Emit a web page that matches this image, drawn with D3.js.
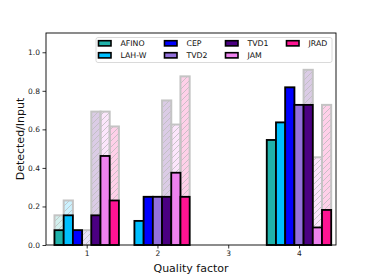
<!DOCTYPE html>
<html><head><meta charset="utf-8">
<script src="https://cdn.jsdelivr.net/npm/d3@7"></script>
<style>body{margin:0;background:#fff}svg{display:block;font-family:"DejaVu Sans",sans-serif}</style>
</head><body><svg id="c" width="374" height="276"></svg>
<script>
const categories = [1, 2, 3, 4];
const methods = ["AFINO", "LAH-W", "CEP", "TVD2", "TVD1", "JAM", "JRAD"];
const colors = ["#20B2AA", "#00BFFF", "#0000FF", "#9370DB", "#4B0082", "#EE82EE", "#FF1493"];
// detected fraction (foreground bars)
const afinoDet = [0.077, 0, null, 0.545];
const lahwDet  = [0.154, 0.125, null, 0.636];
const cepDet   = [0.077, 0.25, null, 0.818];
const tvd2Det  = [0, 0.25, null, 0.727];
const tvd1Det  = [0.154, 0.25, null, 0.727];
const jamDet   = [0.462, 0.375, null, 0.091];
const jradDet  = [0.231, 0.25, null, 0.182];
// all detections (background hatched bars)
const afinoAll = [0.154, 0, null, 0.545];
const lahwAll  = [0.231, 0.125, null, 0.636];
const cepAll   = [0.077, 0.25, null, 0.818];
const tvd2All  = [0.077, 0.25, null, 0.727];
const tvd1All  = [0.692, 0.75, null, 0.909];
const jamAll   = [0.692, 0.625, null, 0.455];
const jradAll  = [0.615, 0.875, null, 0.727];
const yTicks = [0.0, 0.2, 0.4, 0.6, 0.8, 1.0];

const det = [afinoDet, lahwDet, cepDet, tvd2Det, tvd1Det, jamDet, jradDet];
const all = [afinoAll, lahwAll, cepAll, tvd2All, tvd1All, jamAll, jradAll];

const svg = d3.select("#c");
const L = 46, R = 336, T = 33, B = 245;
const x = d3.scaleLinear().domain([0.425, 4.523]).range([L, R]);
const y = d3.scaleLinear().domain([0, 1.1]).range([B, T]);
const bw = 0.13;

const defs = svg.append("defs");
const pat = defs.append("pattern").attr("id", "hatch").attr("patternUnits", "userSpaceOnUse")
  .attr("width", 6).attr("height", 6);
pat.append("path").attr("d", "M-1,7 L7,-1 M-4,4 L4,-4 M2,10 L10,2")
  .attr("stroke", "#bdbdbd").attr("stroke-width", 0.8);

const bars = [];
methods.forEach((m, i) => {
  categories.forEach((c, j) => {
    bars.push({i, c, det: det[i][j], all: all[i][j]});
  });
});

const xl = d => x(d.c + (d.i - 3) * bw - bw / 2);
const wl = () => x(bw) - x(0);

// background bars
const bg = svg.append("g");
bars.filter(d => d.all != null && d.all > 0).forEach(d => {
  const h = y(0) - y(d.all);
  bg.append("rect").attr("x", xl(d)).attr("y", y(d.all)).attr("width", wl()).attr("height", h)
    .attr("fill", colors[d.i]).attr("fill-opacity", 0.2);
  bg.append("rect").attr("x", xl(d)).attr("y", y(d.all)).attr("width", wl()).attr("height", h)
    .attr("fill", "url(#hatch)").attr("stroke", "#c4c4c4").attr("stroke-width", 2);
});
// foreground bars
svg.append("g").selectAll("rect").data(bars.filter(d => d.det != null)).join("rect")
  .attr("x", xl).attr("y", d => y(d.det)).attr("width", wl())
  .attr("height", d => y(0) - y(d.det))
  .attr("fill", d => colors[d.i]).attr("stroke", "#000").attr("stroke-width", 1.8);

// frame
svg.append("rect").attr("x", L).attr("y", T).attr("width", R - L).attr("height", B - T)
  .attr("fill", "none").attr("stroke", "#000").attr("stroke-width", 0.9);

// axes
const xa = svg.append("g").attr("transform", `translate(0,${B})`)
  .call(d3.axisBottom(x).tickValues(categories).tickFormat(d3.format("d")).tickSize(3.5).tickPadding(2));
const ya = svg.append("g").attr("transform", `translate(${L},0)`)
  .call(d3.axisLeft(y).tickValues(yTicks).tickFormat(d3.format(".1f")).tickSize(3.5).tickPadding(2.5));
[xa, ya].forEach(a => {
  a.select(".domain").remove();
  a.selectAll("text").attr("font-size", 7.5).attr("fill", "#222").attr("font-family", "DejaVu Sans");
  a.selectAll("line").attr("stroke", "#000").attr("stroke-width", 0.8);
});

svg.append("text").attr("x", (L + R) / 2).attr("y", 272).attr("text-anchor", "middle")
  .attr("font-size", 11).attr("fill", "#111").text("Quality factor");
svg.append("text").attr("transform", `translate(24,${(T + B) / 2}) rotate(-90)`).attr("text-anchor", "middle")
  .attr("font-size", 11).attr("fill", "#111").text("Detected/Input");

// legend
const lg = svg.append("g");
lg.append("rect").attr("x", 96).attr("y", 37.5).attr("width", 236).attr("height", 25).attr("rx", 2)
  .attr("fill", "#fff").attr("fill-opacity", 0.85).attr("stroke", "#d0d0d0").attr("stroke-width", 0.8);
const colX = [98.5, 164.5, 225.5, 286.5];
methods.forEach((m, i) => {
  const col = Math.floor(i / 2), row = i % 2;
  const px = colX[col], py = 43.3 + row * 12;
  lg.append("rect").attr("x", px).attr("y", py - 2.6).attr("width", 12.5).attr("height", 5.2)
    .attr("fill", colors[i]).attr("stroke", "#000").attr("stroke-width", 1.6);
  lg.append("text").attr("x", px + 22).attr("y", py + 2.8).attr("font-size", 7.8).attr("fill", "#111").text(m);
});
</script></body></html>
